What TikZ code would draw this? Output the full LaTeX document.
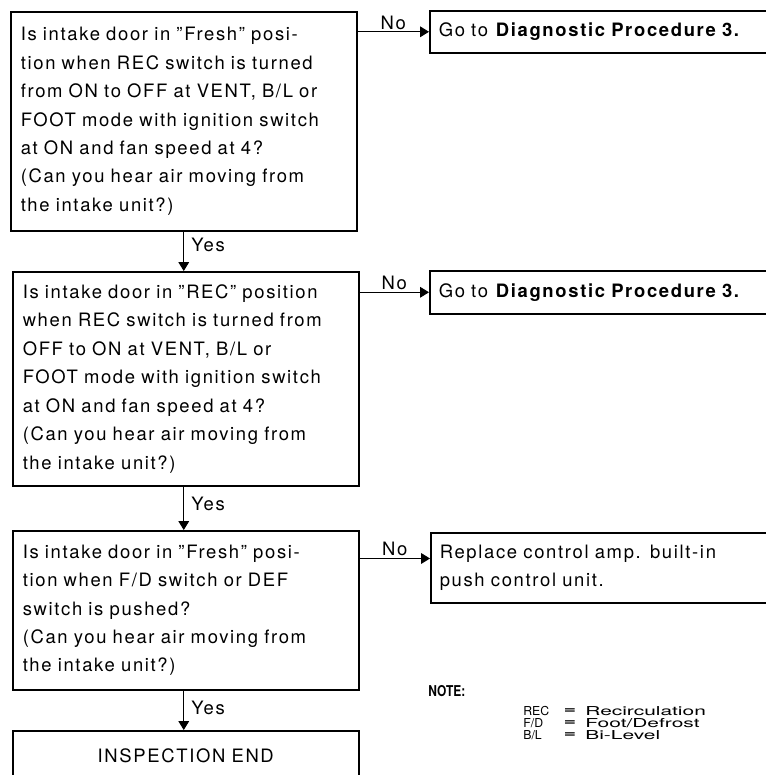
\documentclass[tikz,border=0pt]{standalone}
\usepackage{fontspec}
\setmainfont{TeX Gyre Heros}[LetterSpace=9]
\newfontfamily\notefont{TeX Gyre Heros}
\newfontfamily\notewide{TeX Gyre Heros}[FakeStretch=1.7]
\newfontfamily\notehead{TeX Gyre Heros}[FakeStretch=0.8]
\usetikzlibrary{arrows.meta}
\usetikzlibrary{calc}

\begin{document}
\begin{tikzpicture}[x=0.02cm,y=-0.02cm,
    question/.style={draw,line width=0.9pt,anchor=north west,text width=6.52cm,
        inner xsep=0.2cm,inner ysep=0pt,align=left,
        font=\fontsize{10.5}{16.2}\selectfont},
    result/.style={draw,line width=0.9pt,anchor=north west,text width=7.06cm,
        inner xsep=0.18cm,inner ysep=0pt,align=left,
        font=\fontsize{10.5}{16.2}\selectfont},
    flow/.style={line width=0.6pt,-{Triangle[width=6pt,length=5pt]}},
    answer/.style={font=\fontsize{10.5}{12}\selectfont,inner sep=1pt},
    abbr/.style={anchor=west,inner sep=0pt,font=\notefont\fontsize{7}{7}\selectfont}]

\useasboundingbox (0,0) rectangle (766,775);

% questions on the left
\node[question,minimum height=4.38cm] (q1) at (10,11)
    {Is intake door in ''Fresh'' posi-\\
     tion when REC switch is turned\\
     from ON to OFF at VENT, B/L or\\
     FOOT mode with ignition switch\\
     at ON and fan speed at 4?\\
     (Can you hear air moving from\\
     the intake unit?)};
\node[question,minimum height=4.28cm] (q2) at (12,271)
    {Is intake door in ''REC'' position\\
     when REC switch is turned from\\
     OFF to ON at VENT, B/L or\\
     FOOT mode with ignition switch\\
     at ON and fan speed at 4?\\
     (Can you hear air moving from\\
     the intake unit?)};
\node[question,minimum height=3.18cm] (q3) at (12,530)
    {Is intake door in ''Fresh'' posi-\\
     tion when F/D switch or DEF\\
     switch is pushed?\\
     (Can you hear air moving from\\
     the intake unit?)};
\node[question,align=center,minimum height=1cm] (fin) at (12,730)
    {INSPECTION END};

% results on the right
\node[result,minimum height=0.84cm] (r1) at (429,10)
    {Go to \textbf{Diagnostic Procedure 3.}};
\node[result,minimum height=0.86cm] (r2) at (429,270)
    {Go to \textbf{Diagnostic Procedure 3.}};
\node[result,minimum height=1.4cm] (r3) at (430,532)
    {Replace control amp. built-in\\
     push control unit.};

% Yes
\coordinate (s2) at ($(q2.south)+(-2,0)$);
\coordinate (s3) at ($(q3.south)+(-2,0)$);
\draw[flow] (q1.south) -- (q1.south |- q2.north)
    node[answer,pos=0.35,right,xshift=3pt] (y1) {Yes};
\draw[flow] (s2) -- (s2 |- q3.north)
    node[answer,pos=0.4,right,xshift=3pt] (y2) {Yes};
\draw[flow] (s3) -- (s3 |- fin.north)
    node[answer,pos=0.45,right,xshift=3pt] (y3) {Yes};

% No
\draw[flow] (q1.east |- r1.west) -- (r1.west)
    node[answer,midway,above] (n1) {No};
\draw[flow] (q2.east |- r2.west) -- (r2.west)
    node[answer,midway,above] (n2) {No};
\coordinate (r3in) at ($(r3.north west)!0.37!(r3.south west)$);
\draw[flow] (q3.east |- r3in) -- (r3in)
    node[answer,midway,above] (n3) {No};

% note
\node[anchor=west,inner sep=0pt,font=\notehead\bfseries\fontsize{8.5}{8.5}\selectfont] (note) at (428,691) {NOTE:};
\foreach \short/\long [count=\i] in {REC/Recirculation,{F/D}/{Foot/Defrost},{B/L}/{Bi-Level}}{
    \node[abbr] (a\i) at (523,699+12*\i) {\short};
    \node[abbr,anchor=center,font=\notewide\bfseries\fontsize{7}{7}\selectfont] (e\i) at (570,699+12*\i) {=};
    \node[abbr,font=\notewide\fontsize{7}{7}\selectfont] (l\i) at (585,699+12*\i) {\long};
}
\end{tikzpicture}
\end{document}
